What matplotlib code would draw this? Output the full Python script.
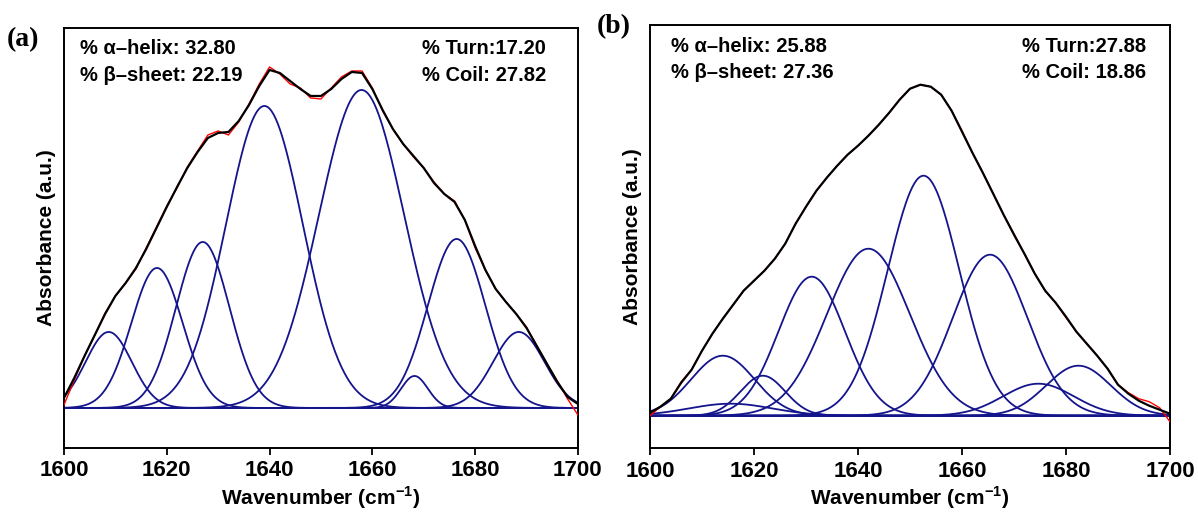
import numpy as np
import matplotlib
matplotlib.use("Agg")
import matplotlib.pyplot as plt

plt.rcParams["font.family"] = ["Liberation Sans", "DejaVu Sans"]
plt.rcParams["mathtext.fontset"] = "custom"
plt.rcParams["mathtext.rm"] = "Liberation Sans"
plt.rcParams["mathtext.bf"] = "Liberation Sans:bold"

# wavenumber grid of the read-off spectra (cm-1)
wn = list(range(1600, 1701, 2))

# panel (a): fitted envelope (black) and measured spectrum (red), a.u. x 1000
fit_a = [10, 30, 52, 73, 94, 112, 125, 140, 159, 180, 201, 221, 240, 256, 270, 275,
         276, 287, 303, 322, 338, 335, 327, 319, 312, 312, 319, 329, 336, 335, 319,
         298, 279, 264, 252, 240, 225, 214, 206, 188, 162, 138, 119, 106, 94, 80, 62,
         44, 26, 11, 4]
meas_a = [3, 28, 52, 73, 95, 112, 125, 139, 160, 181, 202, 220, 241, 257, 273, 277,
          273, 286, 304, 324, 341, 334, 324, 320, 310, 309, 320, 331, 337, 337, 320,
          297, 279, 264, 251, 240, 226, 214, 207, 188, 160, 138, 119, 106, 94, 81, 62,
          44, 27, 9, -7]

# panel (b)
fit_b = [3, 9, 17, 33, 46, 65, 82, 97, 111, 125, 135, 145, 157, 172, 192, 209,
         225, 238, 250, 261, 270, 280, 291, 303, 316, 327, 331, 329, 321, 305, 284,
         263, 243, 222, 201, 181, 162, 142, 125, 113, 99, 84, 72, 60, 47, 31, 22,
         15, 10, 6, 2]
meas_b = [0, 9, 17, 34, 46, 65, 82, 97, 111, 125, 135, 145, 157, 172, 192, 209,
          225, 238, 250, 261, 270, 280, 291, 303, 316, 327, 331, 329, 321, 305, 285,
          263, 243, 222, 201, 182, 162, 142, 125, 113, 98, 84, 72, 60, 47, 31, 23,
          17, 14, 8, -6]

# fitted gaussian components: centre (cm-1), height (a.u. x 1000), sigma (cm-1)
comp_a_center = [1608.7, 1618.1, 1627.0, 1639.0, 1657.9, 1668.2, 1676.4, 1688.5]
comp_a_height = [76, 140, 166, 302, 318, 32, 169, 76]
comp_a_sigma = [4.5, 5.0, 5.2, 7.5, 8.3, 2.6, 5.6, 5.0]

comp_b_center = [1614.0, 1615.5, 1621.7, 1631.1, 1642.0, 1652.6, 1665.4, 1674.7, 1682.4]
comp_b_height = [60, 12, 40, 139, 167, 240, 161, 32, 50]
comp_b_sigma = [6.1, 8.0, 4.3, 6.4, 8.0, 6.9, 7.2, 6.8, 6.2]

labels_a = ["% \u03b1\u2013helix: 32.80", "% \u03b2\u2013sheet: 22.19",
            "% Turn:17.20", "% Coil: 27.82"]
labels_b = ["% \u03b1\u2013helix: 25.88", "% \u03b2\u2013sheet: 27.36",
            "% Turn:27.88", "% Coil: 18.86"]

BLUE = "#14148c"


def draw_panel(ax, fit, meas, centers, heights, sigmas, labels, ylim, txt_x):
    x = np.linspace(1600, 1700, 501)
    ax.axhline(0, color=BLUE, lw=1.3, zorder=2)
    for c, h, s in zip(centers, heights, sigmas):
        y = h / 1000 * np.exp(-(x - c) ** 2 / (2 * s ** 2))
        ax.plot(x, y, color=BLUE, lw=1.3, zorder=2)
    ax.plot(wn, np.array(meas) / 1000, color="red", lw=1.0, zorder=3)
    ax.plot(wn, np.array(fit) / 1000, color="black", lw=1.6, zorder=4)

    ax.set_xlim(1600, 1700)
    ax.set_ylim(*ylim)
    ax.set_xticks(range(1600, 1701, 20))
    ax.set_yticks([])
    ax.tick_params(axis="x", direction="out", length=5, width=1.3, labelsize=16, pad=4)
    for lab in ax.get_xticklabels():
        lab.set_fontweight("bold")
    for sp in ax.spines.values():
        sp.set_linewidth(1.4)
    ax.set_xlabel(r"Wavenumber (cm$^{\mathbf{-1}}$)", fontsize=15, fontweight="bold", labelpad=2)
    ax.set_ylabel("Absorbance (a.u.)", fontsize=15, fontweight="bold", labelpad=6)

    kw = dict(transform=ax.transAxes, fontsize=14.5, fontweight="bold", va="center", ha="left")
    ax.text(txt_x[0], 0.95, labels[0], **kw)
    ax.text(txt_x[0], 0.888, labels[1], **kw)
    ax.text(txt_x[1], 0.95, labels[2], **kw)
    ax.text(txt_x[1], 0.888, labels[3], **kw)


fig = plt.figure(figsize=(11.98, 5.2), dpi=100)
ax1 = fig.add_axes([0.0534, 0.1385, 0.4290, 0.8077])
ax2 = fig.add_axes([0.5426, 0.1379, 0.4340, 0.8140])

draw_panel(ax1, fit_a, meas_a, comp_a_center, comp_a_height, comp_a_sigma,
           labels_a, (-0.040, 0.380), (0.031, 0.697))
draw_panel(ax2, fit_b, meas_b, comp_b_center, comp_b_height, comp_b_sigma,
           labels_b, (-0.0326, 0.3907), (0.040, 0.715))

fig.text(0.006, 0.923, "(a)", fontsize=20, fontweight="bold",
         family="Liberation Serif", va="center", ha="left")
fig.text(0.498, 0.948, "(b)", fontsize=20, fontweight="bold",
         family="Liberation Serif", va="center", ha="left")

fig.savefig("out.png", dpi=100)
